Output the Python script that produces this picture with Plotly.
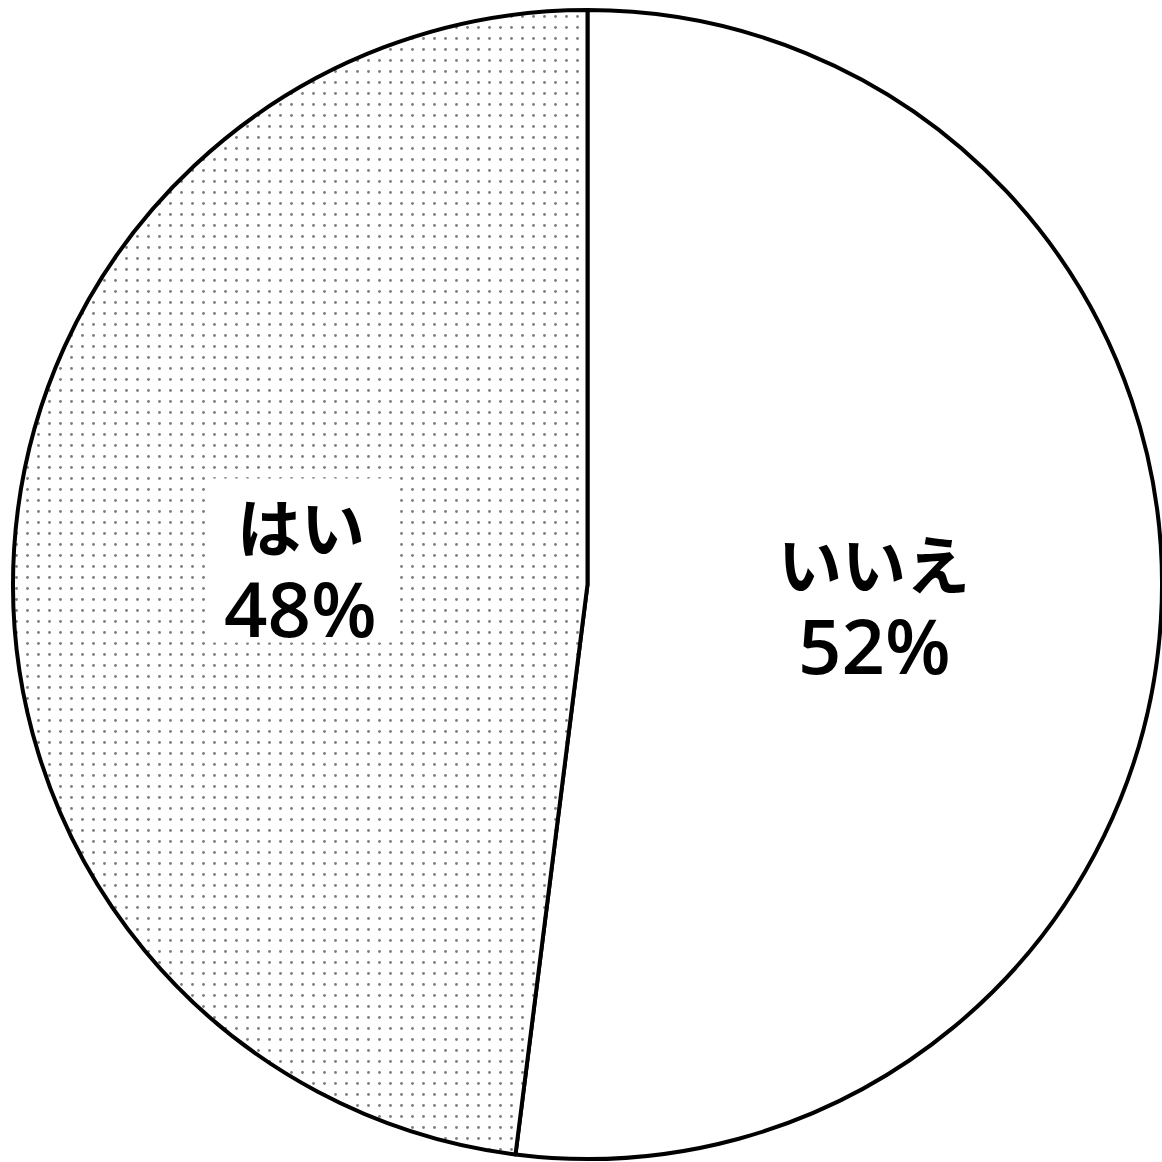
import math
import plotly.graph_objects as go

labels = ["いいえ", "はい"]
values = [52, 48]
fill_colors = ["white", "white"]
pattern_shapes = ["", "."]

W = H = 1162
ml, mr, mt, mb = 13, 0, 9, 2

fig = go.Figure(go.Pie(
    labels=labels,
    values=values,
    sort=False,
    direction="clockwise",
    rotation=0,
    textinfo="none",
    hoverinfo="none",
    showlegend=False,
    marker=dict(
        colors=fill_colors,
        line=dict(color="black", width=4),
        pattern=dict(shape=pattern_shapes, fgcolor="black", bgcolor="white",
                     size=11, solidity=0.055, fillmode="overlay"),
    ),
))

# Labels placed along each slice's bisector, with a white box behind them
pw = W - ml - mr
ph = H - mt - mb
r = min(pw, ph) / 2
total = sum(values)
cum = 0
annotations = []
shapes = []
for lab, v in zip(labels, values):
    mid = (cum + v / 2) / total * 2 * math.pi  # clockwise from 12 o'clock
    cum += v
    cx = 0.5 + 0.5 * r * math.sin(mid) / pw
    cy = 0.5 + 0.5 * r * math.cos(mid) / ph
    shapes.append(dict(type="rect", xref="paper", yref="paper", layer="above",
                       x0=cx - 94 / pw, x1=cx + 94 / pw,
                       y0=cy - 76 / ph, y1=cy + 88 / ph,
                       fillcolor="white", line=dict(width=0)))
    common = dict(xref="paper", yref="paper", showarrow=False,
                  xanchor="center", yanchor="middle", valign="middle")
    annotations.append(dict(
        x=cx, y=cy + 42 / ph, text=f"<b>{lab}</b>", height=76,
        font=dict(family="Noto Sans CJK JP", size=64, color="black"), **common))
    annotations.append(dict(
        x=cx, y=cy - 41 / ph, text=f"{round(v / total * 100)}%", height=84,
        font=dict(family="Open Sans", size=76, color="black", weight=600), **common))

fig.update_layout(
    width=W, height=H,
    margin=dict(l=ml, r=mr, t=mt, b=mb),
    paper_bgcolor="white", plot_bgcolor="white",
    annotations=annotations,
    shapes=shapes,
)
fig.write_html("out.html")
